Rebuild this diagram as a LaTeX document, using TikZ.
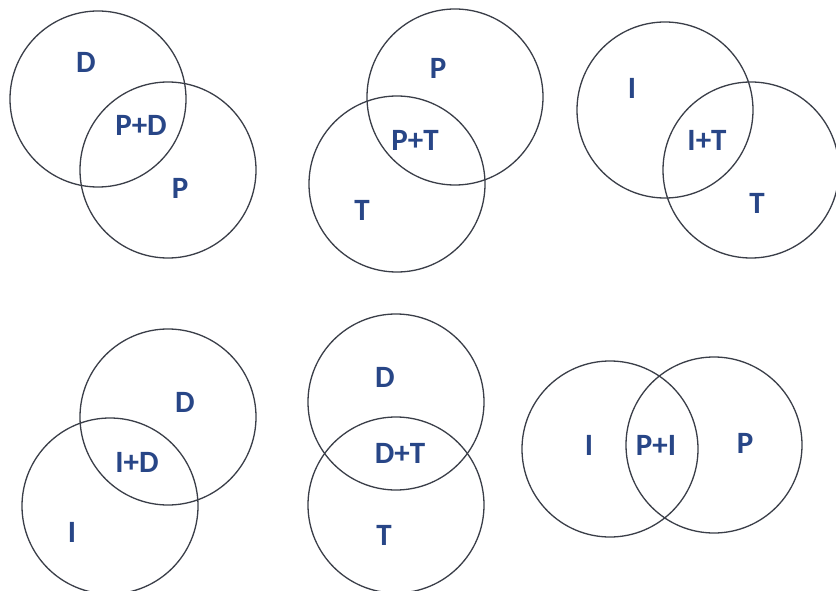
\documentclass[tikz,border=0pt]{standalone}
\usepackage{fontspec}
\setmainfont{Carlito}
\definecolor{ringgray}{RGB}{58,62,72}
\definecolor{labelblue}{RGB}{40,70,135}
\begin{document}
\begin{tikzpicture}[x=1pt,y=-1pt,
  ring/.style={circle,draw=ringgray,line width=1.3pt,minimum size=176pt,inner sep=0pt},
  lbl/.style={text=labelblue,font=\fontsize{31}{31}\selectfont\bfseries,inner sep=0pt}]
\useasboundingbox[fill=white] (0,0) rectangle (836,591);

% Row 1, left: D and P
\node[ring] (c1a) at (98,99) {};
\node[ring] (c1b) at (168,170) {};
\node[lbl] (t1a) at (86,62) {D};
\node[lbl] (t1ab) at (141,125) {P+D};
\node[lbl] (t1b) at (180,188) {P};

% Row 1, middle: P and T
\node[ring] (c2a) at (455,97) {};
\node[ring] (c2b) at (397,184) {};
\node[lbl] (t2a) at (438,68) {P};
\node[lbl] (t2ab) at (415,140) {P+T};
\node[lbl] (t2b) at (362,210) {T};

% Row 1, right: I and T
\node[ring] (c3a) at (665,110) {};
\node[ring] (c3b) at (751,170) {};
\node[lbl] (t3a) at (632,88) {I};
\node[lbl] (t3ab) at (707,140) {I+T};
\node[lbl] (t3b) at (757,203) {T};

% Row 2, left: D and I
\node[ring] (c4a) at (168,417) {};
\node[ring] (c4b) at (110,506) {};
\node[lbl] (t4a) at (185,402) {D};
\node[lbl] (t4ab) at (137,462) {I+D};
\node[lbl] (t4b) at (72,532) {I};

% Row 2, middle: D and T
\node[ring] (c5a) at (396,402) {};
\node[ring] (c5b) at (396,505) {};
\node[lbl] (t5a) at (385,377) {D};
\node[lbl] (t5ab) at (400,453) {D+T};
\node[lbl] (t5b) at (384,535) {T};

% Row 2, right: I and P
\node[ring] (c6a) at (610,449) {};
\node[ring] (c6b) at (714,445) {};
\node[lbl] (t6a) at (589,445) {I};
\node[lbl] (t6ab) at (656,445) {P+I};
\node[lbl] (t6b) at (745,443) {P};
\end{tikzpicture}
\end{document}
